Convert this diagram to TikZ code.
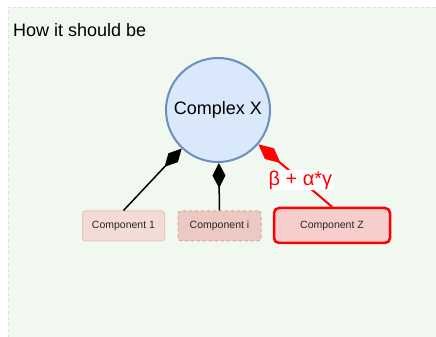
\documentclass[tikz,border=0pt]{standalone}
\usepackage{fontspec}
\setmainfont{Liberation Sans}
\usetikzlibrary{arrows.meta}
\definecolor{bggreen}{HTML}{F1F8F0}
\definecolor{bgline}{HTML}{D5E8D4}
\definecolor{circfill}{HTML}{DAE8FC}
\definecolor{circline}{HTML}{6C8EBF}
\definecolor{onefill}{HTML}{F3DCD8}
\definecolor{oneline}{HTML}{E8C4BF}
\definecolor{ifill}{HTML}{EDC9C4}
\definecolor{iline}{HTML}{D9A19B}
\definecolor{zfill}{HTML}{F8CECC}
\begin{document}
\begin{tikzpicture}[x=1pt,y=1pt,
  comp/.style={rectangle,rounded corners=3pt,minimum height=30pt,font=\fontsize{10.5}{12}\selectfont,text=black!85},
  owns/.style={line width=1.5pt,-{Diamond[length=25pt,width=13pt]}}]
\useasboundingbox (0,0) rectangle (436,337);
\fill[bggreen] (8,0) rectangle (436,330);
\draw[bgline,dash pattern=on 3pt off 3pt] (436,330) -- (8,330) -- (8,0);
\node[anchor=base west,font=\fontsize{18}{20}\selectfont,inner sep=2pt] (title) at (11,300) {How it should be};
\node[circle,draw=circline,fill=circfill,line width=2pt,minimum size=104pt,font=\fontsize{18}{20}\selectfont] (complex) at (218,227) {Complex X};
\node[comp,draw=oneline,fill=onefill,line width=1pt,minimum width=82pt] (comp1) at (123.5,111) {Component 1};
\node[comp,draw=iline,fill=ifill,line width=1pt,dashed,minimum width=83pt] (compi) at (219.5,111) {Component i};
\node[comp,draw=red,fill=zfill,line width=2.5pt,minimum width=116pt,minimum height=35pt,rounded corners=5pt] (compz) at (332,111.5) {Component Z};
\draw[owns] (comp1.north) -- (complex);
\draw[owns] (compi.north) -- (complex);
\draw[owns,red,line width=2pt,-{Diamond[length=29pt,width=14pt]}] (compz.north) -- node[pos=0.43,fill=white,inner sep=1pt,text=red,font=\fontsize{20}{22}\selectfont] (weight) {β + α*γ} (complex);
\end{tikzpicture}
\end{document}
